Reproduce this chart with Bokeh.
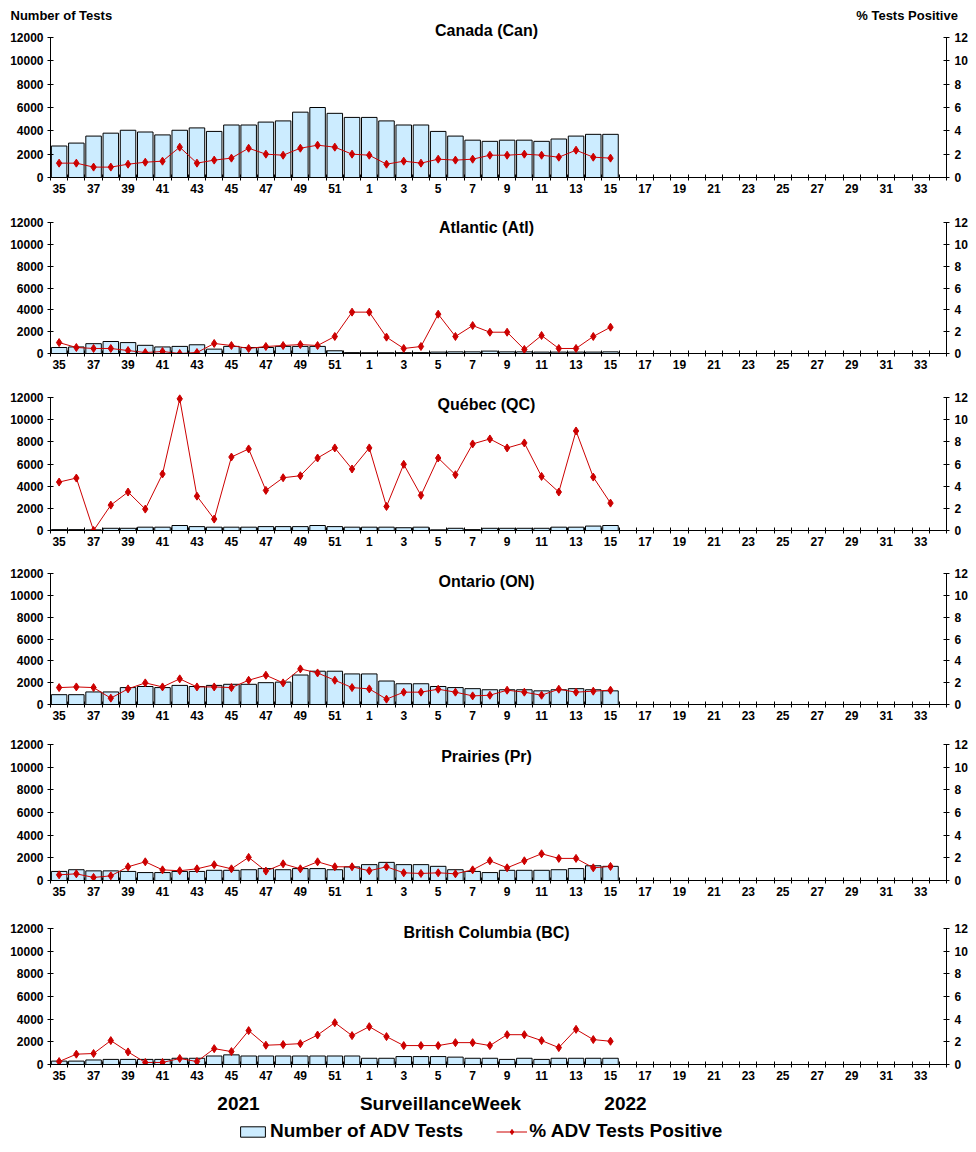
from bokeh.plotting import figure
from bokeh.models import Range1d, LinearAxis, FixedTicker, Label, Legend, LegendItem, ColumnDataSource
from bokeh.layouts import column
from bokeh.embed import file_html
from bokeh.resources import INLINE

# ---------------- data ----------------
weeks = list(range(35, 53)) + list(range(1, 35))  # surveillance weeks (2021-35 .. 2022-34)

can_tests = [2700, 2950, 3550, 3800, 4050, 3900, 3650, 4050, 4250, 3950, 4500, 4500, 4750, 4850, 5600, 6000, 5500, 5150,
             5150, 4850, 4500, 4500, 3950, 3550, 3200, 3100, 3200, 3200, 3100, 3300, 3550, 3700, 3700]
can_pct = [1.23, 1.23, 0.89, 0.89, 1.14, 1.31, 1.4, 2.6, 1.23, 1.49, 1.66, 2.51, 2.0, 1.91, 2.51, 2.77, 2.6, 2.0,
           1.91, 1.14, 1.4, 1.23, 1.57, 1.49, 1.57, 1.91, 1.91, 2.0, 1.91, 1.74, 2.34, 1.74, 1.66]

atl_tests = [550, 600, 900, 1100, 1000, 750, 600, 650, 800, 400, 650, 550, 550, 650, 650, 650, 250, 80,
             70, 70, 80, 80, 130, 150, 150, 220, 150, 150, 130, 130, 130, 130, 150]
atl_pct = [1.0, 0.55, 0.46, 0.46, 0.27, 0.09, 0.18, 0.0, 0.09, 0.92, 0.73, 0.46, 0.64, 0.73, 0.82, 0.73, 1.56, 3.79,
           3.79, 1.5, 0.46, 0.64, 3.6, 1.56, 2.56, 1.95, 1.95, 0.37, 1.65, 0.46, 0.46, 1.56, 2.41]

qc_tests = [80, 80, 60, 200, 200, 300, 300, 450, 350, 300, 300, 300, 350, 350, 350, 450, 350, 300,
            300, 300, 250, 300, 60, 200, 80, 200, 200, 200, 200, 300, 300, 400, 450]
qc_pct = [4.37, 4.73, 0.0, 2.29, 3.47, 1.93, 5.1, 11.88, 3.1, 1.03, 6.63, 7.36, 3.62, 4.76, 4.94, 6.54, 7.45, 5.55,
          7.45, 2.17, 5.97, 3.17, 6.54, 5.03, 7.81, 8.26, 7.45, 7.9, 4.88, 3.47, 8.98, 4.82, 2.47]

on_tests = [900, 900, 1150, 1150, 1550, 1650, 1550, 1750, 1650, 1750, 1850, 1850, 2000, 2050, 2700, 3050, 3050, 2800,
            2800, 2150, 1900, 1900, 1650, 1550, 1450, 1350, 1350, 1350, 1250, 1350, 1450, 1350, 1250]
on_pct = [1.55, 1.61, 1.55, 0.58, 1.43, 1.98, 1.61, 2.35, 1.61, 1.61, 1.55, 2.22, 2.68, 1.98, 3.26, 2.89, 2.22, 1.55,
          1.43, 0.49, 1.13, 1.13, 1.4, 1.13, 0.79, 0.85, 1.31, 1.13, 0.85, 1.4, 1.13, 1.22, 1.31]

pr_tests = [800, 950, 850, 850, 800, 700, 700, 800, 800, 900, 900, 950, 1050, 950, 1050, 1050, 950, 1200,
            1400, 1600, 1400, 1400, 1250, 950, 800, 700, 900, 900, 900, 950, 1050, 1300, 1250]
pr_pct = [0.5, 0.59, 0.27, 0.41, 1.21, 1.65, 0.94, 0.86, 1.03, 1.39, 1.03, 2.04, 0.83, 1.47, 1.03, 1.65, 1.21, 1.21,
          0.86, 1.21, 0.68, 0.62, 0.68, 0.59, 0.94, 1.74, 1.12, 1.74, 2.36, 1.95, 1.95, 1.12, 1.24]

bc_tests = [300, 300, 400, 450, 450, 450, 450, 550, 550, 750, 850, 750, 750, 750, 750, 750, 750, 750,
            550, 550, 700, 700, 700, 650, 550, 550, 450, 550, 450, 550, 550, 550, 550]
bc_pct = [0.26, 0.91, 0.97, 2.11, 1.11, 0.18, 0.18, 0.53, 0.26, 1.4, 1.14, 2.99, 1.7, 1.76, 1.84, 2.6, 3.69, 2.55,
          3.34, 2.46, 1.67, 1.67, 1.67, 1.93, 1.93, 1.67, 2.63, 2.63, 2.11, 1.49, 3.1, 2.2, 2.05]

titles = ["Canada (Can)", "Atlantic (Atl)", "Québec (QC)", "Ontario (ON)", "Prairies (Pr)", "British Columbia (BC)"]
tests_all = [can_tests, atl_tests, qc_tests, on_tests, pr_tests, bc_tests]
pct_all = [can_pct, atl_pct, qc_pct, on_pct, pr_pct, bc_pct]

left_ticks = [0, 2000, 4000, 6000, 8000, 10000, 12000]
right_ticks = [0, 2, 4, 6, 8, 10, 12]
year_labels = ["2021", "SurveillanceWeek", "2022"]
series_labels = ["Number of ADV Tests", "% ADV Tests Positive"]

# ---------------- layout (page pixels) ----------------
FONT = "Liberation Sans"
BAR_FILL = "#CCECFF"
RED = "#CC0000"
PAGE_W = 976
FRAME_W = 896
PAGE_X0 = 50           # frame left on the page
BORDER_L = 50
BORDER_R = PAGE_W - BORDER_L - FRAME_W
NCAT = len(weeks)
XMAX = 2 * NCAT
YMAX_L = 12000
YMAX_R = 12

HEADER_H = 21
FOOT_TOP, FOOT_BOT = 1086, 1150
fig_bounds = [(21, 199), (199, 375), (375, 552), (552, 726), (726, 902), (902, 1086)]
frame_tops = [21, 215, 390, 566, 737, 921]
axis_tops = [37, 222, 397, 573, 744, 928]       # page y of the 12000 / 12 tick
axis_bots = [177, 353, 530, 704, 880, 1064]     # page y of the 0 tick
title_page_y = [30, 227, 404, 581, 756, 932]


def px_to_x(px):
    return (px - PAGE_X0) / FRAME_W * XMAX


def style_axis(ax, size="12px"):
    ax.major_label_text_font = FONT
    ax.major_label_text_font_style = "bold"
    ax.major_label_text_font_size = size
    ax.major_label_text_color = "black"
    ax.axis_line_color = "black"
    ax.axis_line_width = 1
    ax.major_tick_line_color = "black"


def blank_strip(height):
    f = figure(frame_width=PAGE_W, frame_height=height, x_range=Range1d(0, PAGE_W), y_range=Range1d(0, height),
               output_backend="svg", toolbar_location=None, x_axis_type=None, y_axis_type=None,
               min_border_left=0, min_border_right=0, min_border_top=0, min_border_bottom=0)
    f.frame_align = False
    f.outline_line_color = None
    f.xgrid.visible = False
    f.ygrid.visible = False
    return f


def text_label(x, y, text, size, align):
    return Label(x=x, y=y, text=text, text_font=FONT, text_font_style="bold", text_font_size=size,
                 text_align=align, text_baseline="middle", text_color="black")


# header strip with the two axis captions
ph = blank_strip(HEADER_H)
ph.add_layout(text_label(10, HEADER_H - 14.5, "Number of Tests", "13px", "left"))
ph.add_layout(text_label(961, HEADER_H - 14.5, "%  Tests Positive", "13px", "right"))

figs = [ph]
for k in range(6):
    ftop, fbot = fig_bounds[k]
    frt = frame_tops[k]
    T, B = axis_tops[k], axis_bots[k]
    frb = B
    fh = frb - frt
    ytop_l = YMAX_L * (B - frt) / (B - T)
    ytop_r = YMAX_R * (B - frt) / (B - T)
    p = figure(frame_width=FRAME_W, frame_height=fh,
               x_range=Range1d(0, XMAX), y_range=Range1d(0, ytop_l),
               output_backend="svg", toolbar_location=None,
               min_border_left=BORDER_L, min_border_right=BORDER_R,
               min_border_top=frt - ftop, min_border_bottom=fbot - frb)
    p.extra_y_ranges = {"pct": Range1d(0, ytop_r)}
    p.outline_line_color = None
    p.xgrid.visible = False
    p.ygrid.visible = False
    p.background_fill_color = "white"
    p.border_fill_color = "white"

    # x axis: labels every other week at category centres, ticks at category boundaries
    xa = p.xaxis[0]
    xa.ticker = FixedTicker(ticks=[2 * i + 1 for i in range(0, NCAT, 2)],
                            minor_ticks=[2 * i for i in range(NCAT + 1)])
    xa.major_label_overrides = {2 * i + 1: str(weeks[i]) for i in range(0, NCAT, 2)}
    style_axis(xa)
    xa.major_tick_in = 0
    xa.major_tick_out = 0
    xa.minor_tick_in = 3
    xa.minor_tick_out = 3
    xa.minor_tick_line_color = "black"
    xa.major_label_standoff = 3

    ya = p.yaxis[0]
    ya.ticker = FixedTicker(ticks=left_ticks)
    ya.bounds = (0, YMAX_L)
    style_axis(ya)
    ya.major_tick_in = 3
    ya.major_tick_out = 3
    ya.minor_tick_line_color = None
    ya.major_label_standoff = 4

    ra = LinearAxis(y_range_name="pct", ticker=FixedTicker(ticks=right_ticks), bounds=(0, YMAX_R))
    style_axis(ra)
    ra.major_tick_in = 3
    ra.major_tick_out = 3
    ra.minor_tick_line_color = None
    ra.major_label_standoff = 5
    p.add_layout(ra, "right")

    tests = tests_all[k]
    pct = pct_all[k]
    src = ColumnDataSource(dict(x=[2 * i + 1 for i in range(len(tests))], tests=tests, pct=pct))
    p.vbar(x="x", top="tests", width=1.8, source=src, fill_color=BAR_FILL, line_color="black", line_width=1)
    p.line(x="x", y="pct", source=src, y_range_name="pct", line_color=RED, line_width=1)
    p.scatter(x="x", y="pct", source=src, y_range_name="pct", marker="diamond", size=8,
              fill_color=RED, line_color=RED)

    ty = (B - title_page_y[k]) / (B - T) * YMAX_L
    p.add_layout(text_label(px_to_x(486), ty, titles[k], "16px", "center"))
    figs.append(p)

# footer strip: axis caption + legend
FOOT_H = FOOT_BOT - FOOT_TOP
pf = blank_strip(FOOT_H)
for txt, cx in zip(year_labels, [238, 440, 625]):
    pf.add_layout(text_label(cx, FOOT_BOT - 1103, txt, "19px", "center"))

# legend entries are tied to (hidden) copies of the last panel's series
leg_src = ColumnDataSource(dict(x=[2 * i + 1 for i in range(len(bc_tests))], tests=bc_tests, pct=bc_pct))
lr_bar = pf.vbar(x="x", top="tests", width=1.8, source=leg_src, fill_color=BAR_FILL, line_color="black",
                 line_width=1, visible=False)
lr_line = pf.line(x="x", y="pct", source=leg_src, line_color=RED, line_width=1, visible=False)
lr_pt = pf.scatter(x="x", y="pct", source=leg_src, marker="diamond", size=7, fill_color=RED, line_color=RED,
                   visible=False)
legend = Legend(items=[LegendItem(label=series_labels[0], renderers=[lr_bar]),
                       LegendItem(label=series_labels[1], renderers=[lr_line, lr_pt])],
                orientation="horizontal", location=(237, 8),
                glyph_width=31, glyph_height=13, label_height=13, label_standoff=2, spacing=33,
                padding=5, margin=0, border_line_color=None, background_fill_alpha=0,
                inactive_fill_alpha=0,
                label_text_font=FONT, label_text_font_style="bold", label_text_font_size="19px",
                label_text_color="black")
pf.add_layout(legend)
figs.append(pf)

layout = column(*figs, spacing=0)
open("out.html", "w").write(file_html(layout, INLINE))
